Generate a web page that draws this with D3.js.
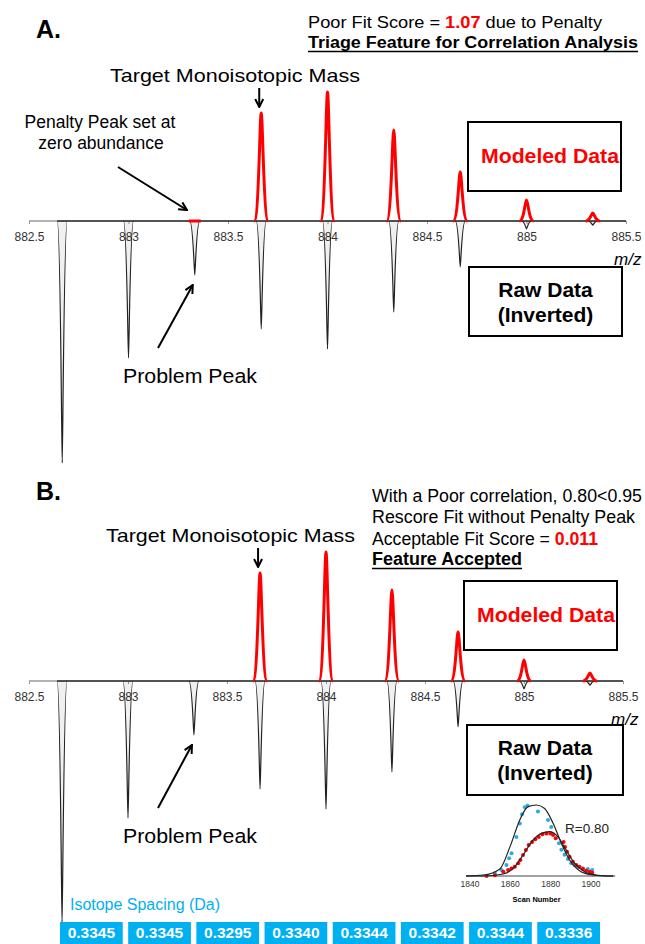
<!DOCTYPE html>
<html>
<head>
<meta charset="utf-8">
<script src="https://cdn.jsdelivr.net/npm/d3@7"></script>
<style>
  body { margin: 0; background: #fff; }
  svg { display: block; font-family: "Liberation Sans", Arial, sans-serif; }
</style>
</head>
<body>
<svg id="chart" width="645" height="944"></svg>
<script>
// ---- data ----
var tickMz = [882.5, 883, 883.5, 884, 884.5, 885, 885.5];
// raw (inverted) spectrum, relative abundance
var rawMz = [882.667, 883.0, 883.333, 883.667, 884.0, 884.333, 884.667, 885.0, 885.333];
var rawAbund = [100, 56.6, 22.3, 44.6, 52.9, 37.6, 19.0, 3.3, 1.7];
// modeled isotope envelope
var modelMz = [883.667, 884.0, 884.333, 884.667, 885.0, 885.333];
var modelAbund = [44.6, 53.3, 37.6, 20.2, 8.7, 3.3];
var penaltyMz = 883.333;
var targetMz = 883.667;

var spacingDa = ["0.3345", "0.3345", "0.3295", "0.3340", "0.3344", "0.3342", "0.3344", "0.3336"];

// inset: elution profiles
var scanTicks = [1840, 1860, 1880, 1900];
var blueScan = [1852.3, 1855.6, 1858.1, 1859.4, 1860.6, 1863.0, 1864.7, 1865.8, 1867.2, 1868.5, 1873.7, 1878.7, 1880.3, 1884.1, 1885.3, 1886.9, 1888.6, 1890.2, 1891.8, 1893.5, 1896.0, 1898.4, 1900.6];
var blueInt = [0.04, 0.085, 0.155, 0.25, 0.32, 0.55, 0.74, 0.87, 0.97, 0.99, 0.91, 0.79, 0.69, 0.46, 0.37, 0.30, 0.24, 0.18, 0.155, 0.13, 0.11, 0.10, 0.085];
var redScan = [1848.2, 1852.3, 1856.5, 1858.9, 1860.6, 1862.2, 1863.9, 1865.0, 1866.3, 1867.7, 1869.1, 1870.8, 1872.4, 1874.1, 1875.9, 1877.9, 1879.8, 1881.2, 1882.5, 1886.4, 1887.1, 1888.1, 1889.4, 1891.0, 1892.7, 1894.3, 1896.0, 1897.6, 1899.3, 1900.6];
var redInt = [0.0, 0.01, 0.06, 0.085, 0.107, 0.13, 0.18, 0.225, 0.295, 0.366, 0.437, 0.48, 0.516, 0.55, 0.587, 0.60, 0.60, 0.577, 0.53, 0.48, 0.41, 0.34, 0.27, 0.20, 0.155, 0.13, 0.10, 0.075, 0.06, 0.045];
var blueFitScan = [1838, 1846.6, 1854.8, 1859.8, 1864.7, 1868.8, 1872.9, 1877.0, 1881.2, 1885.3, 1889.4, 1894.3, 1900.9, 1907.5, 1911];
var blueFitInt = [0.0, 0.014, 0.10, 0.41, 0.79, 0.977, 1.0, 0.95, 0.742, 0.46, 0.225, 0.075, 0.014, 0.0, 0.0];
var redFitScan = [1838, 1846.6, 1856.5, 1861.4, 1866.3, 1871.3, 1875.4, 1879.5, 1883.6, 1887.7, 1891.8, 1896.8, 1902.5, 1909, 1911];
var redFitInt = [0.0, 0.0, 0.028, 0.107, 0.295, 0.507, 0.60, 0.624, 0.55, 0.366, 0.18, 0.06, 0.014, 0.0, 0.0];

var RED = "#ff0000", BLUE = "#00b0f0";

var svg = d3.select("#chart");

var defs = svg.append("defs");
defs.append("marker")
    .attr("id", "head")
    .attr("viewBox", "0 0 10 10")
    .attr("refX", 9).attr("refY", 5)
    .attr("markerWidth", 10).attr("markerHeight", 10)
    .attr("markerUnits", "userSpaceOnUse")
    .attr("orient", "auto")
  .append("path")
    .attr("d", "M1,1 L9,5 L1,9")
    .attr("fill", "none")
    .attr("stroke", "#000")
    .attr("stroke-width", 2);

function txt(g, x, y, s, size, o) {
    o = o || {};
    var t = g.append("text")
        .attr("x", x).attr("y", y)
        .attr("font-size", size)
        .attr("fill", o.fill || "#000")
        .attr("text-anchor", o.anchor || "start")
        .text(s);
    if (o.bold) t.attr("font-weight", "bold");
    if (o.italic) t.attr("font-style", "italic");
    if (o.len) t.attr("textLength", o.len).attr("lengthAdjust", "spacingAndGlyphs");
    return t;
}

function arrow(g, x1, y1, x2, y2) {
    g.append("line")
        .attr("x1", x1).attr("y1", y1).attr("x2", x2).attr("y2", y2)
        .attr("stroke", "#000").attr("stroke-width", 2)
        .attr("marker-end", "url(#head)");
}

function peakPath(cx, y0, yt, w, tip) {
    var p = d3.path();
    p.moveTo(cx - w, y0);
    p.bezierCurveTo(cx - w * 0.35, y0, cx - w * tip, yt, cx, yt);
    p.bezierCurveTo(cx + w * tip, yt, cx + w * 0.35, y0, cx + w, y0);
    return p.toString();
}

function box(g, x, y, w, h) {
    g.append("rect").attr("x", x).attr("y", y).attr("width", w).attr("height", h)
        .attr("fill", "none").attr("stroke", "#000").attr("stroke-width", 2);
}

function spectrum(o) {
    var g = svg.append("g");
    var x = d3.scaleLinear().domain([882.5, 885.5]).range([29, o.right]);
    var y = d3.scaleLinear().domain([-100, 100]).range([o.axisY + 242, o.axisY - 242]);
    var y0 = y(0);

    var ax = g.append("g")
        .attr("transform", "translate(0," + y0 + ")")
        .call(d3.axisBottom(x).tickValues(tickMz).tickSize(3).tickPadding(8).tickFormat(d3.format("")));
    ax.attr("font-family", null).attr("font-size", 12);
    ax.select(".domain").attr("stroke", "#999").attr("stroke-width", 1.5).attr("d", "M" + x(882.5) + ",0H" + x(885.5));
    ax.selectAll(".tick line").attr("stroke", "#999");
    ax.selectAll(".tick text").attr("fill", "#333");

    // raw baseline
    g.append("line")
        .attr("x1", x(rawMz[0]) - 5).attr("x2", x(885.5))
        .attr("y1", y0).attr("y2", y0)
        .attr("stroke", "#333").attr("stroke-width", 1.4);

    // raw inverted peaks
    g.selectAll(".raw").data(rawMz).enter().append("path")
        .attr("class", "raw")
        .attr("d", function (d, i) { return peakPath(x(d), y0, y(-rawAbund[i]), 5, 0.1); })
        .attr("fill", "rgba(0,0,0,0.06)")
        .attr("stroke", "#222").attr("stroke-width", 1.2);

    // penalty peak at zero abundance
    if (o.penalty) {
        g.append("line")
            .attr("x1", x(penaltyMz) - 6).attr("x2", x(penaltyMz) + 6)
            .attr("y1", y0).attr("y2", y0)
            .attr("stroke", RED).attr("stroke-width", 3);
    }

    // modeled peaks
    g.selectAll(".model").data(modelMz).enter().append("path")
        .attr("class", "model")
        .attr("d", function (d, i) { return peakPath(x(d), y0, y(modelAbund[i]), 7, 0.2); })
        .attr("fill", "none")
        .attr("stroke", RED).attr("stroke-width", 3)
        .attr("stroke-linejoin", "round");

    txt(g, o.right - 12, y0 + 44, "m/z", 17, { italic: true });

    // target arrow
    var tx = x(targetMz) - 2;
    arrow(g, tx, o.axisY - 133, tx, o.axisY - 114);
    txt(g, o.targetX, o.axisY - 139, "Target Monoisotopic Mass", 19, { len: o.targetLen });

    // boxes
    box(g, o.modelBox[0], o.modelBox[1], o.modelBox[2], o.modelBox[3]);
    txt(g, o.modelBox[0] + 13, o.modelBox[1] + 41, "Modeled Data", 20, { bold: true, fill: RED, len: 138 });
    box(g, o.rawBox[0], o.rawBox[1], o.rawBox[2], o.rawBox[3]);
    var rc = o.rawBox[0] + o.rawBox[2] / 2;
    txt(g, rc, o.rawBox[1] + 30, "Raw Data", 21, { bold: true, anchor: "middle" });
    txt(g, rc, o.rawBox[1] + 55, "(Inverted)", 21, { bold: true, anchor: "middle" });

    // problem peak
    txt(g, 123, o.axisY + 162, "Problem Peak", 20.5, { len: 134 });
    arrow(g, 158, o.axisY + 127, x(penaltyMz) - 2, o.axisY + 64);
    return g;
}

// ---------- Panel A ----------
var gA = spectrum({
    axisY: 221, right: 626, penalty: true,
    targetX: 110, targetLen: 250,
    modelBox: [468, 122, 153, 69],
    rawBox: [469, 267, 153, 69]
});
txt(gA, 36, 38, "A.", 25, { bold: true });
var t1 = txt(gA, 308, 28, "Poor Fit Score = ", 16.5, { len: 294 });
t1.append("tspan").attr("fill", RED).attr("font-weight", "bold").text("1.07");
t1.append("tspan").text(" due to Penalty");
txt(gA, 308, 48, "Triage Feature for Correlation Analysis", 16, { bold: true, len: 330 });
gA.append("line").attr("x1", 308).attr("x2", 638).attr("y1", 51.5).attr("y2", 51.5)
    .attr("stroke", "#000").attr("stroke-width", 1.5);
txt(gA, 100, 128, "Penalty Peak set at", 17.5, { anchor: "middle" });
txt(gA, 101, 149, "zero abundance", 17.5, { anchor: "middle" });
arrow(gA, 118, 167, 187, 210);

// ---------- Panel B ----------
var gB = spectrum({
    axisY: 681, right: 623, penalty: false,
    targetX: 106, targetLen: 249,
    modelBox: [464, 581, 153, 69],
    rawBox: [467, 725, 156, 70]
});
txt(gB, 36, 500, "B.", 25, { bold: true });
txt(gB, 372, 502, "With a Poor correlation, 0.80<0.95", 17.5, { len: 270 });
txt(gB, 372, 523, "Rescore Fit without Penalty Peak", 17.5, { len: 263 });
var t3 = txt(gB, 372, 545, "Acceptable Fit Score = ", 17.5, { len: 226 });
t3.append("tspan").attr("fill", RED).attr("font-weight", "bold").text("0.011");
txt(gB, 372, 565, "Feature Accepted", 17.5, { bold: true, len: 150 });
gB.append("line").attr("x1", 372).attr("x2", 522).attr("y1", 568.5).attr("y2", 568.5)
    .attr("stroke", "#000").attr("stroke-width", 1.5);

// ---------- Inset: elution profiles ----------
var gi = svg.append("g");
var sx = d3.scaleLinear().domain([1840, 1900]).range([470, 591]);
var sy = d3.scaleLinear().domain([0, 1]).range([876, 805]);
gi.append("line").attr("x1", sx(1838)).attr("x2", sx(1912)).attr("y1", sy(0)).attr("y2", sy(0))
    .attr("stroke", "#444").attr("stroke-width", 1);
gi.selectAll(".stick").data(scanTicks).enter().append("text")
    .attr("x", function (d) { return sx(d); }).attr("y", 887)
    .attr("text-anchor", "middle").attr("font-size", 8.5).attr("fill", "#333")
    .text(function (d) { return d; });
txt(gi, sx(1873), 902, "Scan Number", 6.5, { bold: true, anchor: "middle", len: 48 });

var fitLine = d3.line().x(function (d) { return sx(d[0]); }).y(function (d) { return sy(d[1]); })
    .curve(d3.curveMonotoneX);
gi.selectAll(".bdot").data(d3.zip(blueScan, blueInt)).enter().append("circle")
    .attr("cx", function (d) { return sx(d[0]); }).attr("cy", function (d) { return sy(d[1]); })
    .attr("r", 2).attr("fill", "#29abe2");
gi.selectAll(".rdot").data(d3.zip(redScan, redInt)).enter().append("circle")
    .attr("cx", function (d) { return sx(d[0]); }).attr("cy", function (d) { return sy(d[1]); })
    .attr("r", 2).attr("fill", RED);
gi.append("path").datum(d3.zip(blueFitScan, blueFitInt)).attr("d", fitLine)
    .attr("fill", "none").attr("stroke", "#222").attr("stroke-width", 1.2);
gi.append("path").datum(d3.zip(redFitScan, redFitInt)).attr("d", fitLine)
    .attr("fill", "none").attr("stroke", "#222").attr("stroke-width", 1.2);
txt(gi, 565, 833, "R=0.80", 13.5, { fill: "#222" });

// ---------- Isotope spacing strip ----------
var gs = svg.append("g");
txt(gs, 70, 910, "Isotope Spacing (Da)", 16, { fill: BLUE, len: 150 });
var bx = d3.scaleBand().domain(d3.range(spacingDa.length)).range([60, 600]).paddingInner(0.08);
gs.selectAll(".sbox").data(spacingDa).enter().append("rect")
    .attr("x", function (d, i) { return bx(i); }).attr("y", 922)
    .attr("width", bx.bandwidth()).attr("height", 22)
    .attr("fill", BLUE);
gs.selectAll(".slab").data(spacingDa).enter().append("text")
    .attr("x", function (d, i) { return bx(i) + bx.bandwidth() / 2; }).attr("y", 938)
    .attr("text-anchor", "middle").attr("font-size", 15.5).attr("font-weight", "bold")
    .attr("fill", "#fff")
    .text(function (d) { return d; });
</script>
</body>
</html>
